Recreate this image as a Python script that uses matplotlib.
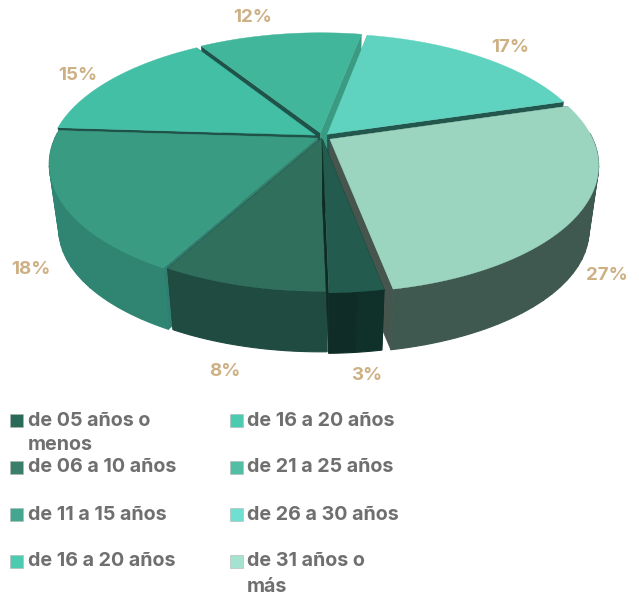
import numpy as np
import matplotlib
matplotlib.use('Agg')
import matplotlib.pyplot as plt
from matplotlib.colors import to_rgb
from matplotlib.patches import Polygon, Rectangle

# pie data, clockwise
categories = ['de 05 años o menos', 'de 06 a 10 años', 'de 11 a 15 años', 'de 16 a 20 años',
              'de 21 a 25 años', 'de 26 a 30 años', 'de 31 años o más']
values = [2.7, 8.3, 18, 15, 12, 17.4, 26.6]

top_colors = ['#235c4e', '#316f5d', '#3a9b83', '#42bfa5', '#42b69a', '#5fd3bf', '#9bd5c0']
side_start = ['#10302a', '#1f4b40', '#2f8572', '#2f8a76', '#2f8a76', '#2f8a76', '#4f665c']
side_end = ['#102c27', '#1f4b40', '#2f8572', '#2f8a76', '#2f8a76', '#2f8a76', '#3f5850']
face_start = ['#0f2a25', '#1c463c', '#2f8070', '#1f5249', '#1f5249', '#3a9a82', '#46564f']
face_end = ['#0f2a25', '#0f2a25', '#337f6c', '#1f5249', '#3a9a82', '#23564c', '#46564f']

# legend (the original lists one label twice)
legend_left = ['de 05 años o\nmenos', 'de 06 a 10 años', 'de 11 a 15 años', 'de 16 a 20 años']
legend_right = ['de 16 a 20 años', 'de 21 a 25 años', 'de 26 a 30 años', 'de 31 años o\nmás']
legend_left_colors = ['#2a6a58', '#3b7f6b', '#43a78f', '#4ccbb0']
legend_right_colors = ['#4ccbb0', '#52bfa4', '#6fdfcf', '#a6e2d0']

label_pos = [(367, 375), (225, 371), (31, 269), (78, 76), (253, 18), (510, 48), (607, 276)]

# projection of the tilted disc
cx, cy = 322, 137
R, a, b = 262, 121.6, 0.2
explode = [0.02, 0.012, 0.02, 0.03, 0.035, 0.03, 0.035]
shrink, depth = 0.965, 66
start_angle = 169.2


def project(t, r, mid, e):
    u = r * np.sin(t) + e * np.sin(mid)
    v = -r * np.cos(t) - e * np.cos(mid)
    w = 1 - b * v
    return np.column_stack([cx + R * u / w, cy + a * v / w])


def lower(pts):
    return np.column_stack([cx + shrink * (pts[:, 0] - cx), cy + depth + shrink * (pts[:, 1] - cy)])


def mix(c1, c2, f):
    return tuple((1 - f) * np.array(to_rgb(c1)) + f * np.array(to_rgb(c2)))


def poly(ax, pts, color, lw=0.3):
    ax.add_patch(Polygon(pts, closed=True, facecolor=color, edgecolor=color, linewidth=lw))


fig, ax = plt.subplots(figsize=(6.39, 5.94), dpi=100)
fig.subplots_adjust(0, 0, 1, 1)
ax.set_xlim(0, 639)
ax.set_ylim(594, 0)
ax.axis('off')

edges = start_angle + np.cumsum([0] + values) * 3.6
mids = (edges[:-1] + edges[1:]) / 2

# back slices first
order = np.argsort(-np.cos(np.radians(mids)))
for i in order:
    t0, t1 = np.radians(edges[i]), np.radians(edges[i + 1])
    mid = np.radians(mids[i])
    ts = np.linspace(t0, t1, max(3, int(values[i] * 1.2)))
    ts_fine = np.linspace(t0, t1, 80)
    rim = project(ts_fine, 1, mid, explode[i])
    apex = project(np.array([t0]), 0, mid, explode[i])
    apex_low = lower(apex)

    # cut faces
    poly(ax, np.vstack([apex, rim[:1], lower(rim[:1]), apex_low]), face_start[i])
    poly(ax, np.vstack([apex, rim[-1:], lower(rim[-1:]), apex_low]), face_end[i])

    # outer wall in bands for the shading, only the part that faces the viewer
    for k in range(len(ts) - 1):
        band = np.linspace(ts[k], ts[k + 1], 12)
        band = band[np.cos(band) < 0.05]
        if len(band) < 2:
            continue
        col = mix(side_start[i], side_end[i], min(1, 3 * k / (len(ts) - 1)))
        edge = project(band, 1, mid, explode[i])
        poly(ax, np.vstack([edge, lower(edge)[::-1]]), col, lw=0.8)

    # top
    poly(ax, np.vstack([apex, rim]), top_colors[i])

for v, (x, y) in zip(values, label_pos):
    ax.text(x, y, f'{v:.0f}%', color='#cdb083', fontsize=13.5, fontweight='bold',
            family='Inter', ha='center', va='center')

rows = [420, 467, 514, 561]
for x_box, x_txt, labels, colors in [(10, 28, legend_left, legend_left_colors),
                                     (230, 247, legend_right, legend_right_colors)]:
    for y, lab, col in zip(rows, labels, colors):
        ax.add_patch(Rectangle((x_box, y - 6.5), 13, 13, facecolor=col, edgecolor='#b5b5b5', linewidth=0.4))
        ax.text(x_txt, y - 8.5, lab, color='#6f6f6f', fontsize=14.2, fontweight='bold', family='Inter',
                ha='left', va='top', linespacing=1.5)

fig.savefig('out.png', dpi=100)
